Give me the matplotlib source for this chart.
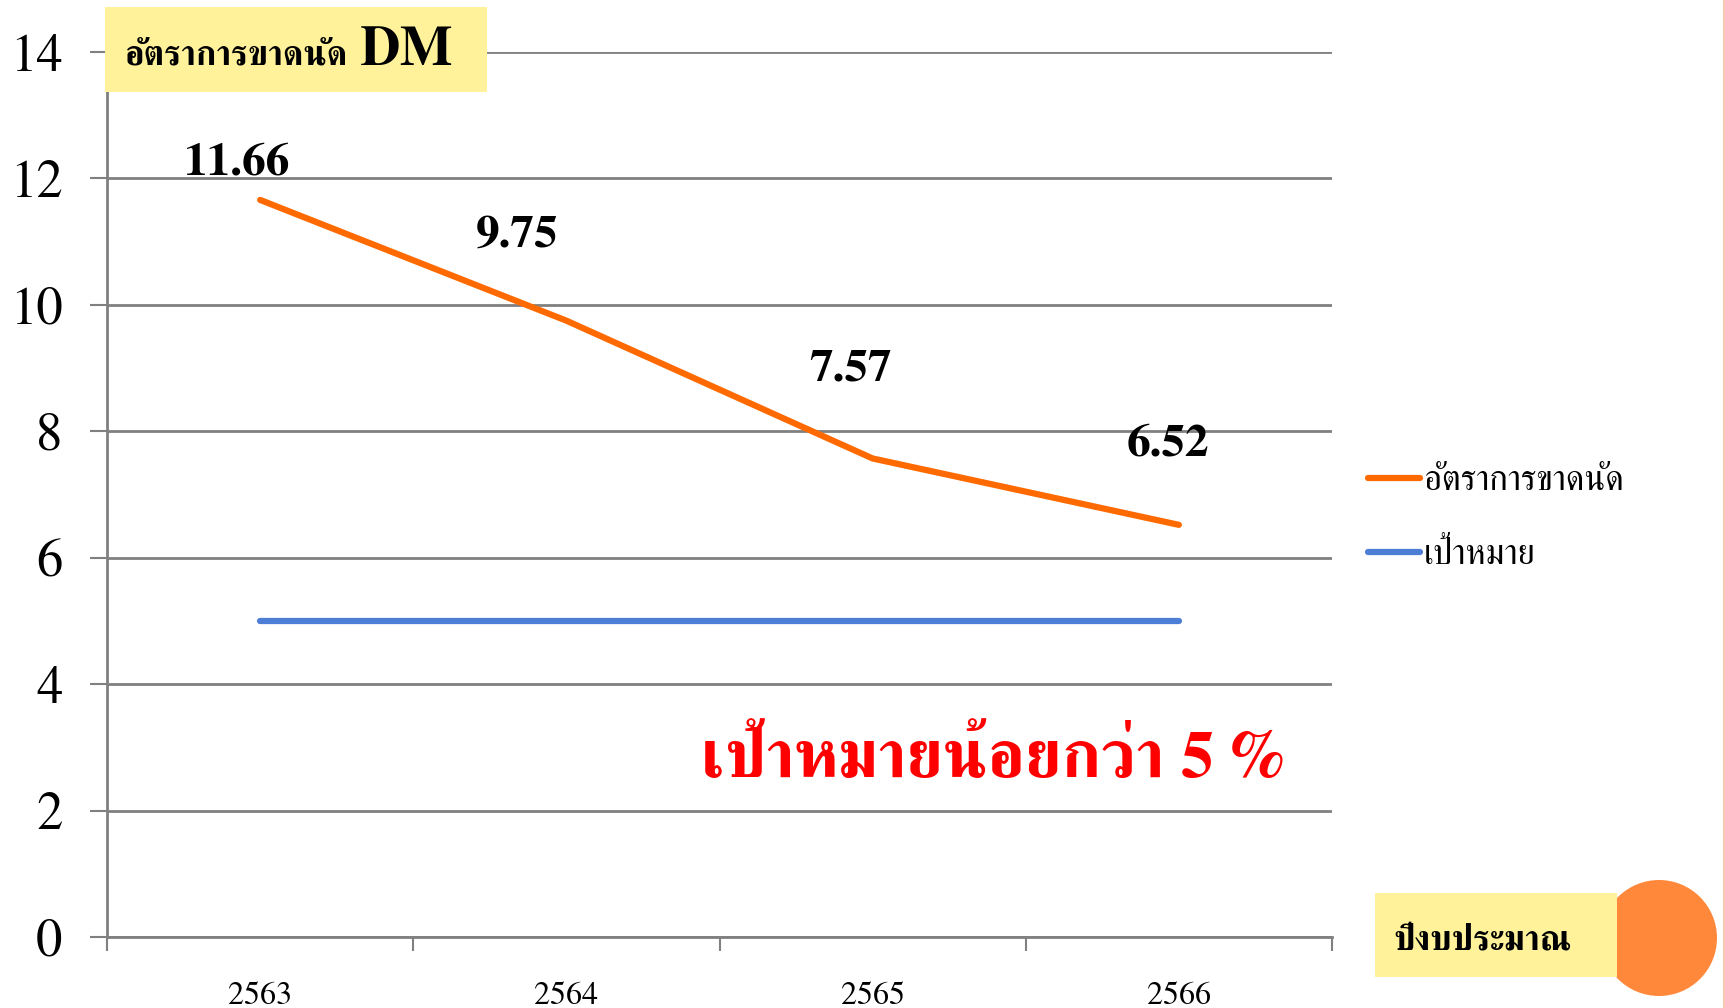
import matplotlib
matplotlib.use("Agg")
import matplotlib.pyplot as plt
from matplotlib.patches import Rectangle, Circle

# data
years = ["2563", "2564", "2565", "2566"]
miss_rate = [11.66, 9.75, 7.57, 6.52]
target = [5, 5, 5, 5]
rate_label = "อัตราการขาดนัด"
target_label = "เป้าหมาย"
# where each value label sits relative to its point (pixels)
label_offsets = [(-23, 36), (-49, 85), (-22, 88), (-11, 80)]

ORANGE = "#FF6A00"
BLUE = "#4C7ED6"
GRID = "#808080"
YELLOW = "#FFF29B"
THAI = ["FreeSerif", "DejaVu Serif"]

W, H = 1725, 1008
fig = plt.figure(figsize=(W / 100, H / 100), dpi=100)
ax = fig.add_axes([107 / W, 71 / H, 1225 / W, 885 / H])

x = list(range(len(years)))
ax.plot(x, miss_rate, color=ORANGE, lw=4.5, solid_capstyle="round",
        solid_joinstyle="round", label=rate_label, zorder=3)
ax.plot(x, target, color=BLUE, lw=4.5, solid_capstyle="round",
        label=target_label, zorder=3)

for xi, v, (dx, dy) in zip(x, miss_rate, label_offsets):
    ax.annotate(f"{v:.2f}", (xi, v), xytext=(dx * 0.72, dy * 0.72),
                textcoords="offset points", ha="center", va="center",
                fontsize=34, fontweight="bold", family=THAI, zorder=4)

ax.set_xlim(-0.5, len(years) - 0.5)
ax.set_ylim(0, 14)
ax.set_yticks(range(0, 15, 2))
ax.yaxis.grid(True, color=GRID, lw=2)
ax.set_axisbelow(True)
ax.tick_params(axis="y", length=12, width=1.5, color=GRID, pad=20,
               labelsize=38)
for lab in ax.get_yticklabels():
    lab.set_family(THAI)

ax.set_xticks([i - 0.5 for i in range(len(years) + 1)])
ax.set_xticklabels([])
ax.set_xticks(x, minor=True)
ax.set_xticklabels(years, minor=True, family=THAI, fontsize=23)
ax.tick_params(axis="x", which="major", length=10, width=1.5, color=GRID)
ax.tick_params(axis="x", which="minor", length=0, pad=32)

for side in ["top", "right"]:
    ax.spines[side].set_visible(False)
for side in ["left", "bottom"]:
    ax.spines[side].set_color(GRID)
    ax.spines[side].set_linewidth(2)

leg = fig.legend(loc="center left", bbox_to_anchor=(1368 / W, 1 - 519 / H),
                 frameon=False, prop={"family": THAI, "size": 25},
                 handlelength=1.5, handletextpad=0.12, labelspacing=1.22,
                 borderpad=0, borderaxespad=0)
for h in leg.get_lines():
    h.set_solid_capstyle("round")

# title box
fig.add_artist(Rectangle((105 / W, 1 - 92 / H), 382 / W, 85 / H,
                         transform=fig.transFigure, facecolor=YELLOW,
                         edgecolor="none", zorder=2))
fig.text(125 / W, 1 - 65 / H, rate_label, family=THAI, fontweight="bold",
         fontsize=25, va="baseline", zorder=3)
fig.text(360 / W, 1 - 65 / H, "DM", family=THAI, fontweight="bold",
         fontsize=40, va="baseline", zorder=3)

# x axis caption with decoration circle
fig.add_artist(Circle((16.59, 0.70), 0.58, transform=fig.dpi_scale_trans,
                      facecolor="#FF883A", edgecolor="none", zorder=1))
fig.add_artist(Rectangle((1375 / W, 1 - 977 / H), 242 / W, 84 / H,
                         transform=fig.transFigure, facecolor=YELLOW,
                         edgecolor="none", zorder=2))
fig.text(1393 / W, 1 - 949 / H, "ปีงบประมาณ", family=THAI,
         fontweight="bold", fontsize=25, va="baseline", zorder=3)

fig.text(993 / W, 1 - 761 / H, "เป้าหมายน้อยกว่า 5 %", color="red",
         family=THAI, fontweight="bold", fontsize=48, ha="center",
         va="center", zorder=3)

fig.add_artist(plt.Line2D([1 - 1.5 / W, 1 - 1.5 / W], [0, 1],
                          transform=fig.transFigure, color="#F9C8B0", lw=1.5))

fig.savefig("out.png", dpi=100)
